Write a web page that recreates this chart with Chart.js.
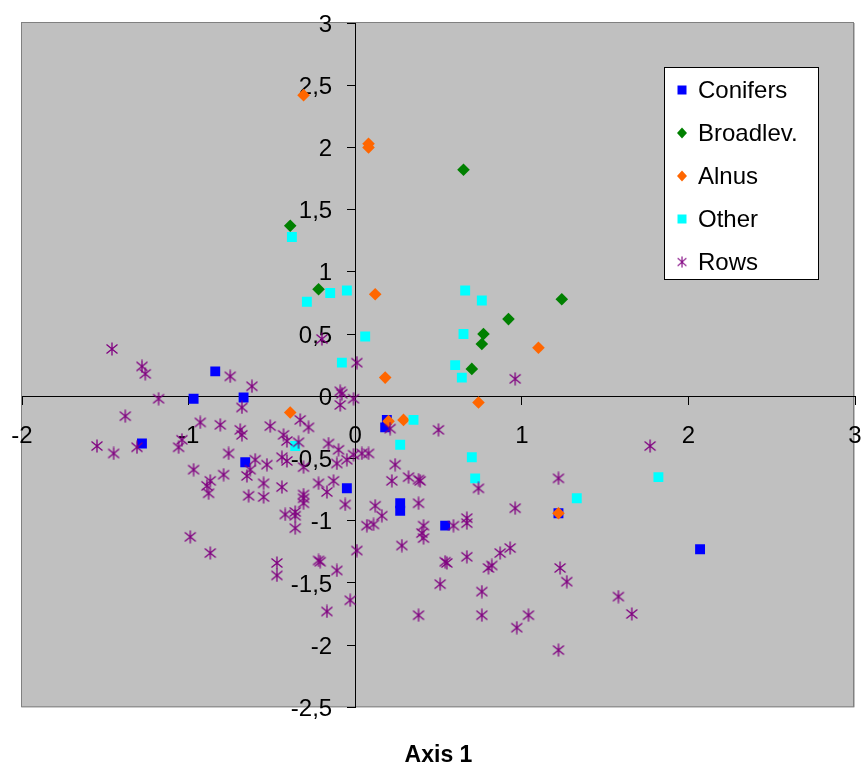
<!DOCTYPE html>
<html>
<head>
<meta charset="utf-8">
<script src="https://cdn.jsdelivr.net/npm/chart.js@4/dist/chart.umd.min.js"></script>
<style>
	body { margin: 0; background: #fff; }
	#wrap { position: relative; width: 861px; height: 767px; }
	#legend {
		position: absolute;
		left: 664px;
		top: 67px;
		width: 153px;
		height: 211px;
		background: #fff;
		border: 1px solid #000;
		font-family: 'Liberation Sans', Arial, sans-serif;
		font-size: 24px;
		color: #000;
	}
	#legend .item { display: flex; align-items: center; height: 43px; padding-left: 10px; }
	#legend canvas { margin-right: 9px; }
</style>
</head>
<body>
<div id="wrap">
	<canvas id="ordination-chart" width="861" height="767"></canvas>
	<div id="legend"></div>
</div>
<script>
// axis ticks
const xTicks = [-2, -1, 0, 1, 2, 3];
const yTicks = [-2.5, -2, -1.5, -1, -0.5, 0, 0.5, 1, 1.5, 2, 2.5, 3];

// [axis 1, axis 2] scores
const conifers = [
	[-0.97, -0.02], [-0.67, -0.01], [-1.28, -0.38], [-0.66, -0.53], [-0.05, -0.74],
	[0.19, -0.19], [0.18, -0.25], [0.27, -0.86], [0.27, -0.92], [0.54, -1.04],
	[1.22, -0.94], [2.07, -1.23], [-0.84, 0.2],
];
const broadlev = [
	[0.65, 1.82], [-0.39, 1.37], [-0.22, 0.86], [1.24, 0.78], [0.92, 0.62],
	[0.77, 0.5], [0.76, 0.42], [0.7, 0.22],
];
const alnus = [
	[-0.31, 2.42], [0.08, 2.03], [0.08, 2.0], [0.12, 0.82], [0.18, 0.15], [1.1, 0.39],
	[-0.39, -0.13], [0.2, -0.2], [0.29, -0.19], [0.74, -0.05], [1.22, -0.94],
];
const other = [
	[-0.38, 1.28], [-0.29, 0.76], [-0.15, 0.83], [-0.05, 0.85], [0.06, 0.48], [-0.08, 0.27],
	[0.66, 0.85], [0.76, 0.77], [0.65, 0.5], [0.6, 0.25], [0.64, 0.15], [0.35, -0.19],
	[0.27, -0.39], [0.7, -0.49], [0.72, -0.66], [-0.36, -0.4], [1.33, -0.82], [1.82, -0.65],
];
const rows = [
	[-1.46, 0.38], [-1.28, 0.24], [-1.26, 0.18], [-0.75, 0.16], [-0.62, 0.08], [-0.2, 0.46],
	[0.01, 0.27], [-0.09, 0.04], [0.96, 0.14], [-1.18, -0.02], [-1.38, -0.16], [-1.55, -0.4],
	[-1.45, -0.46], [-1.31, -0.41], [-0.93, -0.21], [-0.81, -0.23], [-0.69, -0.27], [-0.68, -0.31],
	[-1.04, -0.35], [-1.06, -0.41], [-0.76, -0.46], [-0.97, -0.59], [-0.79, -0.63], [-0.87, -0.68],
	[-0.89, -0.72], [-0.88, -0.78], [-0.68, -0.09], [-0.99, -1.13], [-0.87, -1.26], [-0.51, -0.24],
	[-0.43, -0.31], [-0.41, -0.36], [-0.33, -0.19], [-0.28, -0.25], [-0.34, -0.37], [-0.16, -0.38],
	[-0.1, -0.43], [-0.08, 0.02], [-0.09, -0.07], [-0.01, -0.02], [-0.6, -0.51], [-0.53, -0.55],
	[-0.63, -0.59], [-0.65, -0.64], [-0.44, -0.49], [-0.41, -0.52], [-0.31, -0.57], [-0.11, -0.54],
	[-0.05, -0.51], [-0.01, -0.47], [0.04, -0.46], [0.08, -0.46], [-0.55, -0.7], [-0.55, -0.81],
	[-0.64, -0.8], [-0.44, -0.73], [-0.22, -0.7], [-0.17, -0.77], [-0.13, -0.68], [-0.31, -0.79],
	[-0.31, -0.82], [-0.31, -0.86], [-0.06, -0.87], [-0.42, -0.95], [-0.36, -0.93], [-0.36, -0.96],
	[-0.36, -1.06], [-0.47, -1.34], [-0.47, -1.44], [-0.22, -1.32], [-0.21, -1.33], [-0.11, -1.4],
	[-0.17, -1.73], [0.01, -1.24], [-0.03, -1.64], [0.21, -0.26], [0.5, -0.27], [0.24, -0.55],
	[0.22, -0.68], [0.32, -0.65], [0.38, -0.67], [0.39, -0.68], [0.74, -0.74], [0.12, -0.88],
	[0.38, -0.86], [0.16, -0.96], [0.07, -1.04], [0.11, -1.03], [0.28, -1.2], [0.41, -1.04],
	[0.4, -1.1], [0.41, -1.14], [0.59, -1.04], [0.67, -0.98], [0.67, -1.02], [0.67, -1.29],
	[0.54, -1.33], [0.55, -1.34], [0.51, -1.51], [0.8, -1.38], [0.82, -1.36], [0.76, -1.57],
	[0.76, -1.76], [0.38, -1.76], [0.87, -1.26], [0.93, -1.22], [0.97, -1.86], [1.04, -1.76],
	[1.22, -2.04], [0.96, -0.9], [1.22, -0.66], [1.23, -1.38], [1.27, -1.49], [1.58, -1.61],
	[1.66, -1.75], [1.77, -0.4],
];

const toPoints = (list) => list.map(([x, y]) => ({ x, y }));
const commaDecimal = (value) => String(value).replace('.', ',');

// Excel style asterisk marker: vertical bar crossed by an X
const asterisk = document.createElement('canvas');
asterisk.width = 14;
asterisk.height = 14;
(() => {
	const c = asterisk.getContext('2d');
	c.strokeStyle = '#800080';
	c.lineWidth = 1.3;
	c.beginPath();
	c.moveTo(7, 0.5); c.lineTo(7, 13.5);
	c.moveTo(1.5, 2.5); c.lineTo(12.5, 11.5);
	c.moveTo(12.5, 2.5); c.lineTo(1.5, 11.5);
	c.stroke();
})();

const plotBackground = {
	id: 'plotBackground',
	beforeDraw(chart) {
		const { ctx, chartArea: { left, top, width, height } } = chart;
		ctx.save();
		ctx.fillStyle = '#c0c0c0';
		ctx.fillRect(left, top, width, height);
		ctx.strokeStyle = '#808080';
		ctx.lineWidth = 1;
		ctx.strokeRect(left - 0.5, top - 0.5, width - 1, height);
		ctx.restore();
	},
};

// axes sit on the zero lines, so their labels must not push the plot area in
const noLabelPadding = (scale) => {
	scale.paddingTop = 0;
	scale.paddingBottom = 0;
	scale.paddingLeft = 0;
	scale.paddingRight = 0;
};

// y labels on a zero-positioned axis are drawn flush with the line; move them left
const yLabelGap = 23;
const shiftYLabels = (scale) => {
	noLabelPadding(scale);
	if (scale._labelsShifted) {
		return;
	}
	const drawLabels = scale.drawLabels.bind(scale);
	scale.drawLabels = (area) => {
		scale.ctx.save();
		scale.ctx.translate(-yLabelGap, 2);
		drawLabels(area);
		scale.ctx.restore();
	};
	scale._labelsShifted = true;
};

const tickFont = { family: "'Liberation Sans', Arial, sans-serif", size: 24 };

const chart = new Chart(document.getElementById('ordination-chart'), {
	type: 'scatter',
	data: {
		datasets: [
			{ label: 'Conifers', data: toPoints(conifers), pointStyle: 'rect', pointRadius: 7, backgroundColor: '#0000ff', borderWidth: 0, order: 5 },
			{ label: 'Broadlev.', data: toPoints(broadlev), pointStyle: 'rectRot', pointRadius: 6.3, backgroundColor: '#008000', borderWidth: 0, order: 4 },
			{ label: 'Alnus', data: toPoints(alnus), pointStyle: 'rectRot', pointRadius: 6.3, backgroundColor: '#ff6600', borderWidth: 0, order: 3 },
			{ label: 'Other', data: toPoints(other), pointStyle: 'rect', pointRadius: 7, backgroundColor: '#00ffff', borderWidth: 0, order: 2 },
			{ label: 'Rows', data: toPoints(rows), pointStyle: asterisk, pointRadius: 7, backgroundColor: '#800080', borderWidth: 0, order: 1 },
		],
	},
	options: {
		responsive: false,
		animation: false,
		events: [],
		layout: { autoPadding: false, padding: { top: 23, left: 22, right: 6, bottom: 0 } },
		scales: {
			x: {
				type: 'linear',
				position: { y: 0 },
				min: xTicks[0],
				max: xTicks[xTicks.length - 1],
				afterBuildTicks: (scale) => { scale.ticks = xTicks.map((value) => ({ value })); },
				afterFit: noLabelPadding,
				grid: { drawOnChartArea: false, drawTicks: true, tickLength: 8, color: '#000' },
				border: { color: '#000', width: 1 },
				ticks: { color: '#000', font: tickFont, padding: 18, maxRotation: 0, callback: commaDecimal },
			},
			y: {
				type: 'linear',
				position: { x: 0 },
				min: yTicks[0],
				max: yTicks[yTicks.length - 1],
				afterBuildTicks: (scale) => { scale.ticks = yTicks.map((value) => ({ value })); },
				afterFit: shiftYLabels,
				grid: { drawOnChartArea: false, drawTicks: true, tickLength: 8, color: '#000' },
				border: { color: '#000', width: 1 },
				ticks: { color: '#000', font: tickFont, padding: 15, callback: commaDecimal },
			},
		},
		plugins: {
			legend: { display: false },
			tooltip: { enabled: false },
			title: {
				display: true,
				position: 'bottom',
				text: 'Axis 1',
				color: '#000',
				font: { family: "'Liberation Sans', Arial, sans-serif", size: 23, weight: 'bold', lineHeight: 0.9 },
				padding: { top: 38, bottom: 1 },
			},
		},
	},
	plugins: [plotBackground],
});

// legend box inside the plot, built from the datasets
const legendBox = document.getElementById('legend');
chart.data.datasets.forEach((ds) => {
	const item = document.createElement('div');
	item.className = 'item';
	const mark = document.createElement('canvas');
	mark.width = 14;
	mark.height = 14;
	const c = mark.getContext('2d');
	if (ds.pointStyle instanceof HTMLCanvasElement) {
		c.drawImage(ds.pointStyle, 1.5, 1, 11, 12);
	} else {
		c.fillStyle = ds.backgroundColor;
		c.beginPath();
		if (ds.pointStyle === 'rect') {
			c.rect(2.5, 2.5, 9, 9);
		} else {
			c.moveTo(7, 1.5); c.lineTo(12, 7); c.lineTo(7, 12.5); c.lineTo(2, 7); c.closePath();
		}
		c.fill();
	}
	const label = document.createElement('span');
	label.textContent = ds.label;
	item.appendChild(mark);
	item.appendChild(label);
	legendBox.appendChild(item);
});
</script>
</body>
</html>
